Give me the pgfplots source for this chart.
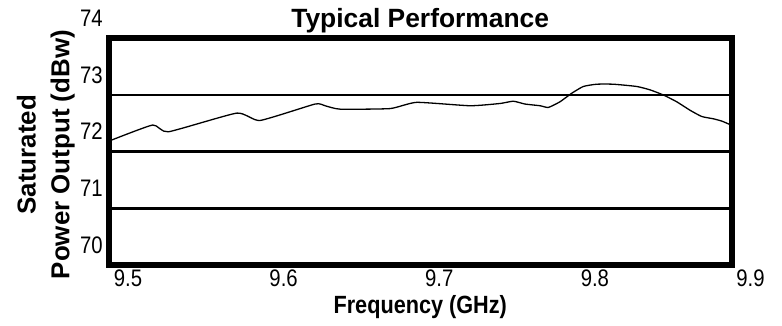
\documentclass[border=0pt]{standalone}
\usepackage{fontspec}
\setmainfont{Liberation Sans}
\usepackage{graphicx}
\usepackage{pgfplots}
\pgfplotsset{compat=1.18}
\newcommand{\tl}[1]{\scalebox{0.85}[1]{\fontsize{24}{24}\selectfont #1}}
\begin{document}
\begin{tikzpicture}
\path[use as bounding box] (-109bp,-61bp) rectangle (673bp,265bp);
\begin{axis}[
  at={(0,0)}, anchor=south west,
  scale only axis, width=622.5bp, height=226.7bp,
  xmin=9.5, xmax=9.9, ymin=70, ymax=74,
  xtick={9.5,9.6,9.7,9.8,9.9}, ytick={70,71,72,73,74},
  xticklabels={\tl{9.5},\tl{9.6},\tl{9.7},\tl{9.8},\tl{9.9}},
  yticklabels={\tl{70},\tl{71},\tl{72},\tl{73},\tl{74}},
  /pgf/number format/assume math mode=true,
  major tick length=0pt,
  ymajorgrids, grid style={black, line width=2.7bp},
  axis line style={line width=6bp},
  yticklabel style={anchor=east, inner sep=0pt, xshift=-6bp, yshift=20bp},
  xticklabel style={anchor=north, inner sep=0pt, xshift=19bp, yshift=-5bp},
  title={Typical Performance},
  title style={at={(axis description cs:0.5,1)}, anchor=base, inner sep=0pt, yshift=5.3bp, font=\fontsize{26.5}{26.5}\selectfont\bfseries},
  xlabel={\scalebox{0.87}[1]{Frequency (GHz)}},
  xlabel style={at={(axis description cs:0.5,0)}, anchor=base, inner sep=0pt, yshift=-48.3bp, font=\fontsize{25}{25}\selectfont\bfseries},
  ylabel={Saturated\\Power Output (dBw)},
  ylabel style={at={([xshift=-34bp,yshift=-3bp]axis description cs:0,0.5)}, anchor=south, inner sep=0pt, align=center, font=\fontsize{26}{34}\selectfont\bfseries},
]
\addplot[black, line width=1.3bp, smooth, tension=0.3] coordinates {
(9.5,72.18)
(9.5017,72.205)
(9.5281,72.47)
(9.5381,72.35)
(9.5821,72.68)
(9.5970,72.55)
(9.6324,72.84)
(9.6388,72.81)
(9.6484,72.75)
(9.6806,72.76)
(9.6977,72.87)
(9.7320,72.81)
(9.7513,72.85)
(9.7598,72.89)
(9.7673,72.84)
(9.7770,72.81)
(9.7823,72.78)
(9.7898,72.88)
(9.7973,73.03)
(9.8048,73.15)
(9.8134,73.19)
(9.8241,73.19)
(9.8391,73.15)
(9.8477,73.09)
(9.8562,73.00)
(9.8648,72.88)
(9.8734,72.73)
(9.8809,72.62)
(9.8883,72.58)
(9.8937,72.54)
(9.8980,72.49)
(9.9,72.47)
};
\end{axis}
\end{tikzpicture}
\end{document}
